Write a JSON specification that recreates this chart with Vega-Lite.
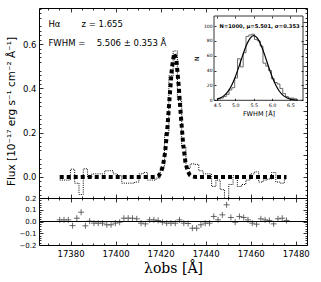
{
  "$schema": "https://vega.github.io/schema/vega-lite/v6.json",
  "background": "white",
  "padding": {"left": 5, "top": 7, "right": 11, "bottom": 4},
  "config": {
    "font": "DejaVu Sans",
    "view": {"stroke": "black", "strokeWidth": 1},
    "axis": {"domain": false, "grid": false, "ticks": true, "tickColor": "black", "tickWidth": 0.8, "labelColor": "black", "titleColor": "black", "titleFontWeight": "normal", "labelFont": "DejaVu Sans", "titleFont": "DejaVu Sans", "labelFontSize": 8.5, "labelOverlap": false, "labelFlush": false}
  },
  "datasets": {
    "spec": [
      {"wave": 17375.2, "flux": -0.014, "resid": 0.014},
      {"wave": 17377.1, "flux": -0.014, "resid": 0.014},
      {"wave": 17379.0, "flux": -0.014, "resid": 0.014},
      {"wave": 17380.9, "flux": 0.035, "resid": -0.035},
      {"wave": 17382.8, "flux": -0.028, "resid": 0.028},
      {"wave": 17384.7, "flux": -0.079, "resid": 0.079},
      {"wave": 17386.6, "flux": 0.037, "resid": -0.037},
      {"wave": 17388.5, "flux": -0.003, "resid": 0.003},
      {"wave": 17390.4, "flux": 0.014, "resid": -0.014},
      {"wave": 17392.3, "flux": 0.014, "resid": -0.014},
      {"wave": 17394.2, "flux": 0.014, "resid": -0.014},
      {"wave": 17396.1, "flux": 0.028, "resid": -0.028},
      {"wave": 17398.0, "flux": 0.028, "resid": -0.028},
      {"wave": 17399.9, "flux": 0.014, "resid": -0.014},
      {"wave": 17401.8, "flux": 0.006, "resid": -0.006},
      {"wave": 17403.7, "flux": -0.028, "resid": 0.028},
      {"wave": 17405.6, "flux": -0.028, "resid": 0.028},
      {"wave": 17407.5, "flux": -0.028, "resid": 0.028},
      {"wave": 17409.4, "flux": -0.023, "resid": 0.023},
      {"wave": 17411.3, "flux": 0.014, "resid": -0.014},
      {"wave": 17413.2, "flux": 0.020, "resid": -0.020},
      {"wave": 17415.1, "flux": -0.014, "resid": 0.014},
      {"wave": 17417.0, "flux": -0.014, "resid": 0.014},
      {"wave": 17418.9, "flux": -0.005, "resid": 0.009},
      {"wave": 17420.8, "flux": 0.045, "resid": -0.006},
      {"wave": 17422.7, "flux": 0.197, "resid": -0.014},
      {"wave": 17424.6, "flux": 0.457, "resid": -0.014},
      {"wave": 17426.5, "flux": 0.569, "resid": -0.014},
      {"wave": 17428.4, "flux": 0.346, "resid": 0.014},
      {"wave": 17430.3, "flux": 0.135, "resid": -0.014},
      {"wave": 17432.2, "flux": 0.038, "resid": -0.017},
      {"wave": 17434.1, "flux": 0.059, "resid": -0.057},
      {"wave": 17436.0, "flux": 0.057, "resid": -0.057},
      {"wave": 17437.9, "flux": 0.028, "resid": -0.028},
      {"wave": 17439.8, "flux": 0.014, "resid": -0.014},
      {"wave": 17441.7, "flux": 0.014, "resid": -0.014},
      {"wave": 17443.6, "flux": -0.043, "resid": 0.043},
      {"wave": 17445.5, "flux": -0.014, "resid": 0.014},
      {"wave": 17447.4, "flux": -0.057, "resid": 0.057},
      {"wave": 17449.3, "flux": -0.142, "resid": 0.142},
      {"wave": 17451.2, "flux": -0.034, "resid": 0.034},
      {"wave": 17453.1, "flux": 0.006, "resid": -0.006},
      {"wave": 17455.0, "flux": -0.043, "resid": 0.043},
      {"wave": 17456.9, "flux": -0.034, "resid": 0.034},
      {"wave": 17458.8, "flux": -0.014, "resid": 0.014},
      {"wave": 17460.7, "flux": 0.014, "resid": -0.014},
      {"wave": 17462.6, "flux": 0.023, "resid": -0.023},
      {"wave": 17464.5, "flux": -0.023, "resid": 0.023},
      {"wave": 17466.4, "flux": -0.014, "resid": 0.014},
      {"wave": 17468.3, "flux": -0.009, "resid": 0.009},
      {"wave": 17470.2, "flux": 0.020, "resid": -0.020},
      {"wave": 17472.1, "flux": -0.023, "resid": 0.023},
      {"wave": 17474.0, "flux": -0.028, "resid": 0.028},
      {"wave": 17475.9, "flux": -0.009, "resid": 0.009}
    ],
    "model": [
      {"wave": 17375.2, "flux": 0},
      {"wave": 17395.0, "flux": 0},
      {"wave": 17416.0, "flux": 0},
      {"wave": 17417.0, "flux": 0.0002},
      {"wave": 17418.0, "flux": 0.0012},
      {"wave": 17419.0, "flux": 0.0049},
      {"wave": 17420.0, "flux": 0.0168},
      {"wave": 17421.0, "flux": 0.0474},
      {"wave": 17422.0, "flux": 0.1118},
      {"wave": 17423.0, "flux": 0.2199},
      {"wave": 17424.0, "flux": 0.360},
      {"wave": 17425.0, "flux": 0.491},
      {"wave": 17426.0, "flux": 0.558},
      {"wave": 17427.0, "flux": 0.528},
      {"wave": 17428.0, "flux": 0.417},
      {"wave": 17429.0, "flux": 0.274},
      {"wave": 17430.0, "flux": 0.150},
      {"wave": 17431.0, "flux": 0.068},
      {"wave": 17432.0, "flux": 0.026},
      {"wave": 17433.0, "flux": 0.0082},
      {"wave": 17434.0, "flux": 0.0022},
      {"wave": 17435.0, "flux": 0.0005},
      {"wave": 17436.0, "flux": 0},
      {"wave": 17455.0, "flux": 0},
      {"wave": 17475.9, "flux": 0}
    ],
    "hist": [
      {"k": 0, "fwhm": 4.520, "n": 0},
      {"k": 1, "fwhm": 4.520, "n": 2},
      {"k": 2, "fwhm": 4.597, "n": 3},
      {"k": 3, "fwhm": 4.674, "n": 5},
      {"k": 4, "fwhm": 4.751, "n": 8},
      {"k": 5, "fwhm": 4.828, "n": 14},
      {"k": 6, "fwhm": 4.905, "n": 17},
      {"k": 7, "fwhm": 4.982, "n": 30},
      {"k": 8, "fwhm": 5.059, "n": 56},
      {"k": 9, "fwhm": 5.136, "n": 45},
      {"k": 10, "fwhm": 5.213, "n": 64},
      {"k": 11, "fwhm": 5.290, "n": 86},
      {"k": 12, "fwhm": 5.367, "n": 88},
      {"k": 13, "fwhm": 5.444, "n": 89},
      {"k": 14, "fwhm": 5.521, "n": 82},
      {"k": 15, "fwhm": 5.598, "n": 80},
      {"k": 16, "fwhm": 5.675, "n": 73},
      {"k": 17, "fwhm": 5.752, "n": 50},
      {"k": 18, "fwhm": 5.829, "n": 46},
      {"k": 19, "fwhm": 5.906, "n": 40},
      {"k": 20, "fwhm": 5.983, "n": 29},
      {"k": 21, "fwhm": 6.060, "n": 24},
      {"k": 22, "fwhm": 6.137, "n": 22},
      {"k": 23, "fwhm": 6.214, "n": 16},
      {"k": 24, "fwhm": 6.291, "n": 9},
      {"k": 25, "fwhm": 6.368, "n": 5},
      {"k": 26, "fwhm": 6.445, "n": 3},
      {"k": 27, "fwhm": 6.522, "n": 3},
      {"k": 28, "fwhm": 6.599, "n": 2},
      {"k": 29, "fwhm": 6.676, "n": 2},
      {"k": 30, "fwhm": 6.676, "n": 0}
    ],
    "gauss": [
      {"fwhm": 4.5, "n": 1.56}, {"fwhm": 4.6, "n": 3.35}, {"fwhm": 4.7, "n": 6.63},
      {"fwhm": 4.8, "n": 12.1}, {"fwhm": 4.9, "n": 20.4}, {"fwhm": 5.0, "n": 31.8},
      {"fwhm": 5.1, "n": 45.6}, {"fwhm": 5.2, "n": 60.5}, {"fwhm": 5.3, "n": 74.0},
      {"fwhm": 5.4, "n": 83.5}, {"fwhm": 5.5, "n": 87.0}, {"fwhm": 5.6, "n": 83.6},
      {"fwhm": 5.7, "n": 74.2}, {"fwhm": 5.8, "n": 60.8}, {"fwhm": 5.9, "n": 45.9},
      {"fwhm": 6.0, "n": 32.0}, {"fwhm": 6.1, "n": 20.6}, {"fwhm": 6.2, "n": 12.2},
      {"fwhm": 6.3, "n": 6.7}, {"fwhm": 6.4, "n": 3.4}, {"fwhm": 6.5, "n": 1.6},
      {"fwhm": 6.6, "n": 0.7}, {"fwhm": 6.7, "n": 0.3}
    ]
  },
  "spacing": 0,
  "bounds": "flush",
  "vconcat": [
    {
      "width": 268,
      "height": 190,
      "resolve": {"scale": {"x": "independent", "y": "independent"}, "axis": {"x": "independent", "y": "independent"}},
      "layer": [
        {
          "layer": [
            {
              "data": {"name": "spec"},
              "mark": {"type": "line", "interpolate": "step", "stroke": "black", "strokeWidth": 1, "strokeDash": [1, 1.2], "clip": true},
              "encoding": {
                "x": {"field": "wave", "type": "quantitative", "scale": {"domain": [17366, 17485], "nice": false, "zero": false}, "axis": {"labels": false, "title": null, "values": [17380, 17400, 17420, 17440, 17460, 17480], "tickSize": -4}},
                "y": {"field": "flux", "type": "quantitative", "scale": {"domain": [-0.095, 0.763], "nice": false, "zero": false}, "axis": {"title": "Flux [10⁻¹⁷ erg s⁻¹ cm⁻² Å⁻¹]", "titleFontSize": 10.5, "titlePadding": 6, "titleY": 103, "values": [0, 0.1, 0.2, 0.3, 0.4, 0.5, 0.6, 0.7], "format": ".1f", "tickSize": -4, "labelPadding": 7}}
              }
            },
            {
              "data": {"name": "model"},
              "mark": {"type": "line", "stroke": "black", "strokeWidth": 4, "strokeDash": [4, 3], "clip": true},
              "encoding": {
                "x": {"field": "wave", "type": "quantitative"},
                "y": {"field": "flux", "type": "quantitative"}
              }
            },
            {
              "data": {"values": [{}]},
              "mark": {"type": "text", "align": "left", "baseline": "middle", "fontSize": 8.5, "color": "black"},
              "encoding": {"x": {"datum": 17370.2, "type": "quantitative"}, "y": {"datum": 0.692, "type": "quantitative"}, "text": {"value": "Hα"}}
            },
            {
              "data": {"values": [{}]},
              "mark": {"type": "text", "align": "left", "baseline": "middle", "fontSize": 8.5, "color": "black"},
              "encoding": {"x": {"datum": 17384.9, "type": "quantitative"}, "y": {"datum": 0.692, "type": "quantitative"}, "text": {"value": "z = 1.655"}}
            },
            {
              "data": {"values": [{}]},
              "mark": {"type": "text", "align": "left", "baseline": "middle", "fontSize": 8.5, "color": "black"},
              "encoding": {"x": {"datum": 17370.2, "type": "quantitative"}, "y": {"datum": 0.606, "type": "quantitative"}, "text": {"value": "FWHM ="}}
            },
            {
              "data": {"values": [{}]},
              "mark": {"type": "text", "align": "left", "baseline": "middle", "fontSize": 8.5, "color": "black"},
              "encoding": {"x": {"datum": 17391.6, "type": "quantitative"}, "y": {"datum": 0.606, "type": "quantitative"}, "text": {"value": "5.506 ± 0.353 Å"}}
            }
          ]
        },
        {
          "data": {"values": [{}]},
          "mark": {"type": "point", "opacity": 0},
          "encoding": {
            "x": {"datum": 17400, "type": "quantitative", "scale": {"domain": [17366, 17485], "nice": false, "zero": false}, "axis": {"orient": "top", "labels": false, "title": null, "values": [17380, 17400, 17420, 17440, 17460, 17480], "tickSize": -4}},
            "y": {"datum": 0, "type": "quantitative", "scale": {"domain": [-0.095, 0.763], "nice": false, "zero": false}, "axis": {"orient": "right", "labels": false, "title": null, "values": [0, 0.1, 0.2, 0.3, 0.4, 0.5, 0.6, 0.7], "tickSize": -4}}
          }
        },
        {
          "data": {"values": [{}]},
          "mark": {"type": "point", "opacity": 0},
          "encoding": {
            "x": {"datum": 17400, "type": "quantitative", "scale": {"domain": [17366, 17485], "nice": false, "zero": false}, "axis": {"orient": "bottom", "labels": false, "title": null, "values": [17370, 17375, 17385, 17390, 17395, 17405, 17410, 17415, 17425, 17430, 17435, 17445, 17450, 17455, 17465, 17470, 17475, 17485], "tickSize": -2}},
            "y": {"datum": 0, "type": "quantitative", "scale": {"domain": [-0.095, 0.763], "nice": false, "zero": false}, "axis": {"orient": "left", "labels": false, "title": null, "values": [-0.08, -0.06, -0.04, -0.02, 0.02, 0.04, 0.06, 0.08, 0.12, 0.14, 0.16, 0.18, 0.22, 0.24, 0.26, 0.28, 0.32, 0.34, 0.36, 0.38, 0.42, 0.44, 0.46, 0.48, 0.52, 0.54, 0.56, 0.58, 0.62, 0.64, 0.66, 0.68, 0.72, 0.74, 0.76], "tickSize": -2}}
          }
        },
        {
          "data": {"values": [{}]},
          "mark": {"type": "point", "opacity": 0},
          "encoding": {
            "x": {"datum": 17400, "type": "quantitative", "scale": {"domain": [17366, 17485], "nice": false, "zero": false}, "axis": {"orient": "top", "labels": false, "title": null, "values": [17370, 17375, 17385, 17390, 17395, 17405, 17410, 17415, 17425, 17430, 17435, 17445, 17450, 17455, 17465, 17470, 17475, 17485], "tickSize": -2}},
            "y": {"datum": 0, "type": "quantitative", "scale": {"domain": [-0.095, 0.763], "nice": false, "zero": false}, "axis": {"orient": "right", "labels": false, "title": null, "values": [-0.08, -0.06, -0.04, -0.02, 0.02, 0.04, 0.06, 0.08, 0.12, 0.14, 0.16, 0.18, 0.22, 0.24, 0.26, 0.28, 0.32, 0.34, 0.36, 0.38, 0.42, 0.44, 0.46, 0.48, 0.52, 0.54, 0.56, 0.58, 0.62, 0.64, 0.66, 0.68, 0.72, 0.74, 0.76], "tickSize": -2}}
          }
        },
        {
          "data": {"values": [{}]},
          "mark": {"type": "rect", "fill": "white", "stroke": "black", "strokeWidth": 0.8},
          "encoding": {
            "x": {"datum": 4.418, "type": "quantitative", "scale": {"domain": [4.418, 6.843], "range": [175, 264], "nice": false, "zero": false}, "axis": {"orient": "bottom", "offset": -97.7, "zindex": 2, "values": [4.5, 5.0, 5.5, 6.0, 6.5], "format": ".1f", "labelFontSize": 4.8, "labelPadding": 4, "tickSize": -2, "title": "FWHM [Å]", "titleFontSize": 6.5, "titlePadding": 3}},
            "x2": {"datum": 6.843},
            "y": {"datum": 0, "type": "quantitative", "scale": {"domain": [0, 113.5], "range": [92.3, 8], "nice": false, "zero": false}, "axis": {"orient": "left", "offset": -175, "zindex": 2, "values": [0, 20, 40, 60, 80, 100], "format": "d", "labelFontSize": 4.5, "labelPadding": 4, "tickSize": -2, "title": "N", "titleFontSize": 6, "titlePadding": 4}},
            "y2": {"datum": 113.5}
          }
        },
        {
          "data": {"name": "hist"},
          "mark": {"type": "line", "interpolate": "step-after", "stroke": "#444", "strokeWidth": 0.8},
          "encoding": {
            "x": {"field": "fwhm", "type": "quantitative", "scale": {"domain": [4.418, 6.843], "range": [175, 264], "nice": false, "zero": false}, "axis": {"orient": "top", "offset": -8, "zindex": 2, "labels": false, "title": null, "values": [4.5, 5.0, 5.5, 6.0, 6.5], "tickSize": -2}},
            "y": {"field": "n", "type": "quantitative", "scale": {"domain": [0, 113.5], "range": [92.3, 8], "nice": false, "zero": false}, "axis": {"orient": "right", "offset": -4, "zindex": 2, "labels": false, "title": null, "values": [0, 20, 40, 60, 80, 100], "tickSize": -2}},
            "order": {"field": "k", "type": "quantitative"}
          }
        },
        {
          "data": {"name": "gauss"},
          "mark": {"type": "line", "interpolate": "monotone", "stroke": "black", "strokeWidth": 1.2},
          "encoding": {
            "x": {"field": "fwhm", "type": "quantitative", "scale": {"domain": [4.418, 6.843], "range": [175, 264], "nice": false, "zero": false}, "axis": null},
            "y": {"field": "n", "type": "quantitative", "scale": {"domain": [0, 113.5], "range": [92.3, 8], "nice": false, "zero": false}, "axis": null}
          }
        },
        {
          "data": {"values": [{}]},
          "mark": {"type": "text", "align": "center", "baseline": "middle", "fontSize": 5.2, "fontWeight": "bold", "color": "black"},
          "encoding": {
            "x": {"datum": 5.66, "type": "quantitative", "scale": {"domain": [4.418, 6.843], "range": [175, 264], "nice": false, "zero": false}, "axis": null},
            "y": {"datum": 100, "type": "quantitative", "scale": {"domain": [0, 113.5], "range": [92.3, 8], "nice": false, "zero": false}, "axis": null},
            "text": {"value": "N=1000, μ=5.501, σ=0.353"}
          }
        }
      ]
    },
    {
      "width": 268,
      "height": 47,
      "resolve": {"scale": {"x": "independent", "y": "independent"}, "axis": {"x": "independent", "y": "independent"}},
      "layer": [
        {
          "data": {"name": "spec"},
          "mark": {"type": "point", "shape": "M-1,0L1,0M0,-1L0,1", "filled": false, "color": "#444", "strokeWidth": 0.8, "size": 36, "opacity": 1},
          "encoding": {
            "x": {"field": "wave", "type": "quantitative", "scale": {"domain": [17366, 17485], "nice": false, "zero": false}, "axis": {"values": [17380, 17400, 17420, 17440, 17460, 17480], "format": "d", "tickSize": -4, "labelPadding": 8, "labelFontSize": 8.5, "title": "λobs [Å]", "titleFont": "DejaVu Serif", "titleFontSize": 14, "titlePadding": 4}},
            "y": {"field": "resid", "type": "quantitative", "scale": {"domain": [-0.2, 0.2], "nice": false, "zero": false}, "axis": {"values": [-0.2, -0.1, 0, 0.1, 0.2], "format": ".1f", "tickSize": -4, "labelPadding": 7, "labelFontSize": 7, "title": null}}
          }
        },
        {
          "data": {"values": [{}]},
          "mark": {"type": "rule", "color": "black", "strokeWidth": 1},
          "encoding": {"y": {"datum": 0, "type": "quantitative", "scale": {"domain": [-0.2, 0.2], "nice": false, "zero": false}, "axis": {"orient": "right", "labels": false, "title": null, "values": [-0.2, -0.1, 0, 0.1, 0.2], "tickSize": -4}}}
        },
        {
          "data": {"values": [{}]},
          "mark": {"type": "point", "opacity": 0},
          "encoding": {
            "x": {"datum": 17400, "type": "quantitative", "scale": {"domain": [17366, 17485], "nice": false, "zero": false}, "axis": {"orient": "top", "labels": false, "title": null, "values": [17380, 17400, 17420, 17440, 17460, 17480], "tickSize": -4}}
          }
        },
        {
          "data": {"values": [{}]},
          "mark": {"type": "point", "opacity": 0},
          "encoding": {
            "x": {"datum": 17400, "type": "quantitative", "scale": {"domain": [17366, 17485], "nice": false, "zero": false}, "axis": {"orient": "bottom", "labels": false, "title": null, "values": [17370, 17375, 17385, 17390, 17395, 17405, 17410, 17415, 17425, 17430, 17435, 17445, 17450, 17455, 17465, 17470, 17475, 17485], "tickSize": -2}},
            "y": {"datum": 0, "type": "quantitative", "scale": {"domain": [-0.2, 0.2], "nice": false, "zero": false}, "axis": {"orient": "left", "labels": false, "title": null, "values": [-0.18, -0.16, -0.14, -0.12, -0.08, -0.06, -0.04, -0.02, 0.02, 0.04, 0.06, 0.08, 0.12, 0.14, 0.16, 0.18], "tickSize": -2}}
          }
        },
        {
          "data": {"values": [{}]},
          "mark": {"type": "point", "opacity": 0},
          "encoding": {
            "x": {"datum": 17400, "type": "quantitative", "scale": {"domain": [17366, 17485], "nice": false, "zero": false}, "axis": {"orient": "top", "labels": false, "title": null, "values": [17370, 17375, 17385, 17390, 17395, 17405, 17410, 17415, 17425, 17430, 17435, 17445, 17450, 17455, 17465, 17470, 17475, 17485], "tickSize": -2}},
            "y": {"datum": 0, "type": "quantitative", "scale": {"domain": [-0.2, 0.2], "nice": false, "zero": false}, "axis": {"orient": "right", "labels": false, "title": null, "values": [-0.18, -0.16, -0.14, -0.12, -0.08, -0.06, -0.04, -0.02, 0.02, 0.04, 0.06, 0.08, 0.12, 0.14, 0.16, 0.18], "tickSize": -2}}
          }
        }
      ]
    }
  ]
}
